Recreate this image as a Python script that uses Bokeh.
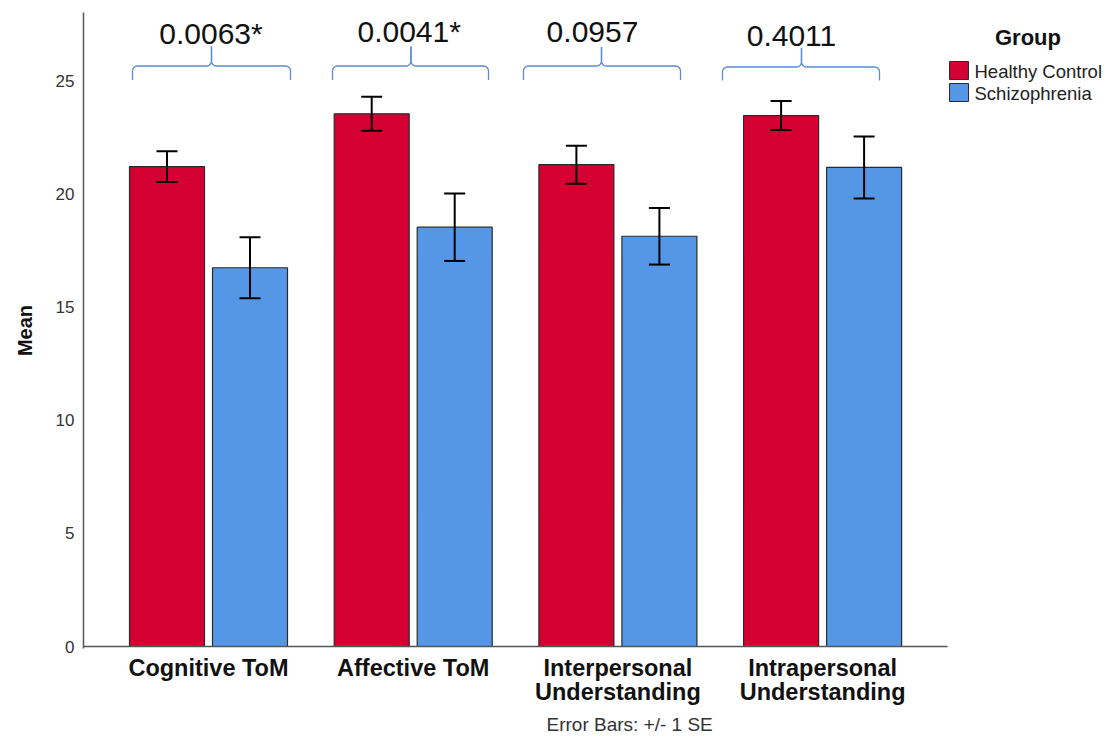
import math
from bokeh.plotting import figure
from bokeh.models import Range1d, FixedTicker, Whisker, TeeHead, ColumnDataSource, Title
from bokeh.core.properties import value
from bokeh.embed import file_html
from bokeh.resources import INLINE

# ---------------- data ----------------
categories = ["Cognitive ToM", "Affective ToM", "Interpersonal\nUnderstanding", "Intrapersonal\nUnderstanding"]
groups = ["Healthy Control", "Schizophrenia"]
hc_mean = [21.20, 23.53, 21.28, 23.45]
hc_se = [0.68, 0.75, 0.84, 0.64]
sz_mean = [16.73, 18.52, 18.12, 21.16]
sz_se = [1.35, 1.49, 1.25, 1.37]
p_values = ["0.0063*", "0.0041*", "0.0957", "0.4011"]
y_ticks = [0, 5, 10, 15, 20, 25]

# ---------------- layout helpers (reference pixel geometry) ----------------
PX_X = 204.7      # pixels per category step
ORIGIN_X = 208.0  # canvas x of first category centre
PX_Y = 22.64      # pixels per unit of mean
ORIGIN_Y = 646.0  # canvas y of zero


def X(px):
    return (px - ORIGIN_X) / PX_X


def Y(py):
    return (ORIGIN_Y - py) / PX_Y


RED = "#D50032"
BLUE = "#5596E6"
FONT = "Liberation Sans"

p = figure(width=1110, height=746,
           x_range=Range1d(X(83), X(1110)), y_range=Range1d(Y(648), Y(12)),
           output_backend="svg", toolbar_location=None,
           min_border_left=83, min_border_right=0, min_border_top=12, min_border_bottom=98)
p.outline_line_color = None
p.grid.visible = False
p.background_fill_color = "white"
p.border_fill_color = "white"

idx = list(range(len(categories)))
off = 41.5 / PX_X
bw = 75.0 / PX_X
hc_x = [i - off for i in idx]
sz_x = [i + off for i in idx]

p.vbar(x=hc_x, top=hc_mean, bottom=0, width=bw, fill_color=RED, line_color="#2b2b2b", line_width=1.2)
p.vbar(x=sz_x, top=sz_mean, bottom=0, width=bw, fill_color=BLUE, line_color="#2b2b2b", line_width=1.2)

# baseline (x axis line, ends before legend)
p.segment(x0=[X(83)], y0=[0], x1=[X(947)], y1=[0], line_color="#555555", line_width=1.5)

# error bars
err = ColumnDataSource(dict(
    x=hc_x + sz_x,
    upper=[m + s for m, s in zip(hc_mean, hc_se)] + [m + s for m, s in zip(sz_mean, sz_se)],
    lower=[m - s for m, s in zip(hc_mean, hc_se)] + [m - s for m, s in zip(sz_mean, sz_se)],
))
w = Whisker(source=err, base="x", upper="upper", lower="lower",
            line_color="black", line_width=2, level="overlay",
            upper_head=TeeHead(size=21, line_width=2, line_color="black"),
            lower_head=TeeHead(size=21, line_width=2, line_color="black"))
p.add_layout(w)

# brackets with p-values (manually placed in reference)
bracket_px = [(132, 290, 211, 79.5, 65.5, 46), (332, 488, 410.5, 79.5, 65.5, 46),
              (523, 680, 601, 79.5, 65.5, 46.5), (722, 879, 801, 80, 66.5, 47.5)]
label_px = [(210.5, 33), (408.7, 31), (592, 31), (791, 35)]


def half(L, C, yb, ym, yt, r=5.0, sign=1):
    pts = [(L, yb), (L, ym + r)]
    for k in range(1, 7):
        t = math.pi / 2 * k / 6
        pts.append((L + sign * (r - r * math.cos(t)), ym + r - r * math.sin(t)))
    pts.append((C - sign * r, ym))
    for k in range(1, 7):
        t = math.pi / 2 * k / 6
        pts.append((C - sign * (r - r * math.sin(t)), ym - r + r * math.cos(t)))
    pts.append((C, yt))
    return [X(a) for a, b in pts], [Y(b) for a, b in pts]


xs, ys = [], []
for (L, R, C, yb, ym, yt) in bracket_px:
    a, b = half(L, C, yb, ym, yt, sign=1)
    xs.append(a); ys.append(b)
    a, b = half(R, C, yb, ym, yt, sign=-1)
    xs.append(a); ys.append(b)
p.multi_line(xs=xs, ys=ys, line_color="#5B8BD0", line_width=1.3)

p.text(x=[X(a) for a, b in label_px], y=[Y(b) for a, b in label_px], text=p_values,
       text_font=value(FONT), text_font_size="30px", text_align="center",
       text_baseline="middle", text_color="#111111")

# legend (drawn manually)
sq = [(61, 79), (83, 101)]
p.quad(left=[X(949)] * 2, right=[X(968)] * 2, top=[Y(a) for a, b in sq], bottom=[Y(b) for a, b in sq],
       fill_color=[RED, BLUE], line_color="#2b2b2b", line_width=1)
p.text(x=[X(974)] * 2, y=[Y(70.5), Y(93)], text=groups, text_font=value(FONT),
       text_font_size="18.5px", text_baseline="middle", text_align="left", text_color="#222222")
p.text(x=[X(1027.5)], y=[Y(37)], text=["Group"], text_font=value(FONT), text_font_size="22px",
       text_font_style="bold", text_baseline="middle", text_align="center", text_color="#111111")

# axes
p.yaxis.ticker = FixedTicker(ticks=y_ticks)
p.yaxis.major_tick_line_color = None
p.yaxis.minor_tick_line_color = None
p.yaxis.major_tick_out = 0
p.yaxis.major_tick_in = 0
p.yaxis.axis_line_color = "#555555"
p.yaxis.axis_line_width = 1.5
p.yaxis.major_label_text_font = FONT
p.yaxis.major_label_text_font_size = "17px"
p.yaxis.major_label_text_color = "#333333"
p.yaxis.major_label_standoff = 9
p.yaxis.axis_label = "Mean"
p.yaxis.axis_label_text_font = FONT
p.yaxis.axis_label_text_font_style = "bold"
p.yaxis.axis_label_text_font_size = "20px"
p.yaxis.axis_label_text_color = "#111111"
p.yaxis.axis_label_standoff = 17

p.xaxis.ticker = FixedTicker(ticks=idx)
p.xaxis.major_label_overrides = {i: c for i, c in zip(idx, categories)}
p.xaxis.axis_line_color = None
p.xaxis.major_tick_line_color = None
p.xaxis.minor_tick_line_color = None
p.xaxis.major_tick_out = 0
p.xaxis.major_tick_in = 0
p.xaxis.major_label_text_font = FONT
p.xaxis.major_label_text_font_style = "bold"
p.xaxis.major_label_text_font_size = "23.5px"
p.xaxis.major_label_text_color = "#111111"
p.xaxis.major_label_standoff = 6
p.xaxis.major_label_text_line_height = 0.95

note = Title(text="Error Bars: +/- 1 SE", align="left", offset=463, standoff=6,
             text_font=FONT, text_font_size="19px", text_font_style="normal",
             text_line_height=1.5, text_color="#333333")
p.add_layout(note, "below")

open("out.html", "w").write(file_html(p, INLINE))
